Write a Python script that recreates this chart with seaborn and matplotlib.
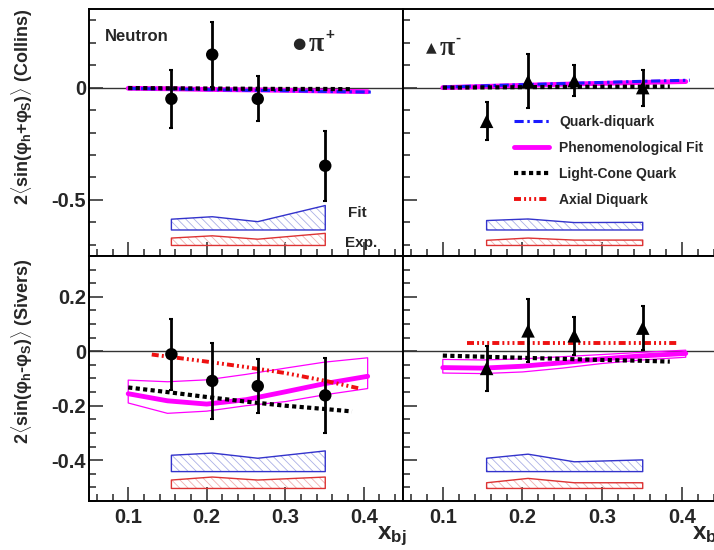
import matplotlib
matplotlib.use("Agg")
import matplotlib.pyplot as plt
from matplotlib.lines import Line2D
from matplotlib.ticker import MultipleLocator, FuncFormatter
import seaborn as sns

# measured bins (x_bj) and asymmetries
x_bins = [0.155, 0.207, 0.265, 0.351]

collins_pip = [-0.050, 0.147, -0.050, -0.348]
collins_pip_err = [0.130, 0.145, 0.100, 0.155]
collins_pim = [-0.150, 0.028, 0.031, 0.000]
collins_pim_err = [0.085, 0.120, 0.070, 0.080]

sivers_pip = [-0.011, -0.109, -0.128, -0.162]
sivers_pip_err = [0.130, 0.140, 0.100, 0.137]
sivers_pim = [-0.063, 0.075, 0.057, 0.085]
sivers_pim_err = [0.083, 0.116, 0.070, 0.080]

# systematic bands (base level + height)
sys_fit_collins_pip = [0.048, 0.059, 0.037, 0.109]
sys_exp_collins_pip = [0.033, 0.043, 0.028, 0.054]
sys_fit_collins_pim = [0.042, 0.049, 0.033, 0.034]
sys_exp_collins_pim = [0.023, 0.033, 0.024, 0.024]
sys_fit_sivers_pip = [0.060, 0.068, 0.049, 0.076]
sys_exp_sivers_pip = [0.031, 0.042, 0.031, 0.042]
sys_fit_sivers_pim = [0.049, 0.064, 0.036, 0.043]
sys_exp_sivers_pim = [0.021, 0.037, 0.021, 0.021]
collins_fit_base, collins_exp_base = -0.634, -0.703
sivers_fit_base, sivers_exp_base = -0.442, -0.504

# model curves
x_model = [0.10, 0.15, 0.20, 0.25, 0.30, 0.35, 0.405]
x_qd = [0.10, 0.15, 0.20, 0.25, 0.30, 0.35, 0.41]
x_lc = [0.10, 0.15, 0.20, 0.25, 0.30, 0.35, 0.385]
x_ax = [0.13, 0.20, 0.25, 0.30, 0.35, 0.395]

fit_collins_pip = [-0.003, -0.005, -0.008, -0.010, -0.012, -0.015, -0.018]
qd_collins_pip = [-0.004, -0.006, -0.009, -0.012, -0.014, -0.017, -0.020]
lc_collins_pip = [-0.002, -0.003, -0.004, -0.005, -0.006, -0.006, -0.007]

fit_collins_pim = [0.000, 0.005, 0.010, 0.015, 0.019, 0.023, 0.027]
qd_collins_pim = [0.002, 0.008, 0.013, 0.018, 0.023, 0.028, 0.033]
lc_collins_pim = [0.000, 0.001, 0.002, 0.003, 0.004, 0.004, 0.005]

fit_sivers_pip = [-0.156, -0.182, -0.194, -0.178, -0.149, -0.119, -0.092]
fit_sivers_pip_hi = [-0.106, -0.112, -0.105, -0.085, -0.062, -0.040, -0.024]
fit_sivers_pip_lo = [-0.190, -0.228, -0.220, -0.200, -0.185, -0.160, -0.137]
lc_sivers_pip = [-0.133, -0.150, -0.168, -0.185, -0.200, -0.212, -0.221]
ax_sivers_pip = [-0.012, -0.038, -0.058, -0.080, -0.108, -0.137]

fit_sivers_pim = [-0.060, -0.062, -0.055, -0.042, -0.028, -0.017, -0.008]
fit_sivers_pim_hi = [-0.030, -0.032, -0.028, -0.020, -0.012, -0.004, 0.004]
fit_sivers_pim_lo = [-0.080, -0.082, -0.076, -0.062, -0.045, -0.032, -0.022]
lc_sivers_pim = [-0.016, -0.020, -0.024, -0.028, -0.032, -0.035, -0.038]
ax_sivers_pim = [0.030, 0.030, 0.030, 0.030, 0.030, 0.030]

# styles
MAGENTA = "#ff00ff"
BLUE = "#1a1aff"
RED = "#ee1111"
qd_style = dict(color=BLUE, linewidth=2.2, linestyle=(0, (3, 1.2, 0.8, 1.2)))
fit_style = dict(color=MAGENTA, linewidth=3.5, linestyle="-")
lc_style = dict(color="black", linewidth=3, linestyle=(0, (1, 0.8)))
ax_style = dict(color=RED, linewidth=2.8, linestyle=(0, (1.8, 0.8, 0.5, 0.8, 0.5, 0.8, 0.5, 0.8)))

sns.set_theme(style="ticks")
plt.rcParams["font.family"] = ["Liberation Sans", "DejaVu Sans"]
plt.rcParams["font.weight"] = "bold"
plt.rcParams["axes.unicode_minus"] = False
plt.rcParams["mathtext.fontset"] = "custom"
plt.rcParams["mathtext.rm"] = "Liberation Sans:bold"
plt.rcParams["mathtext.it"] = "Liberation Sans:bold"
plt.rcParams["mathtext.bf"] = "Liberation Sans:bold"
plt.rcParams["hatch.linewidth"] = 0.6

fig = plt.figure(figsize=(7.14, 5.5), dpi=100)
ax_tl = fig.add_axes([0.1246, 0.5345, 0.4398, 0.4491])
ax_tr = fig.add_axes([0.5644, 0.5345, 0.4462, 0.4491])
ax_bl = fig.add_axes([0.1246, 0.0891, 0.4398, 0.4455])
ax_br = fig.add_axes([0.5644, 0.0891, 0.4462, 0.4455])


def style_axis(ax, top, left):
    ax.set_xlim(0.05, 0.45)
    ax.xaxis.set_major_locator(MultipleLocator(0.1))
    ax.xaxis.set_minor_locator(MultipleLocator(0.02))
    if top:
        ax.set_ylim(-0.75, 0.35)
        ax.yaxis.set_major_locator(MultipleLocator(0.5))
        ax.yaxis.set_minor_locator(MultipleLocator(0.1))
    else:
        ax.set_ylim(-0.55, 0.35)
        ax.yaxis.set_major_locator(MultipleLocator(0.2))
        ax.yaxis.set_minor_locator(MultipleLocator(0.05))
    ax.yaxis.set_major_formatter(FuncFormatter(lambda v, p: "%g" % round(v, 2)))
    ax.xaxis.set_major_formatter(FuncFormatter(lambda v, p: "%g" % round(v, 2)))
    ax.tick_params(which="major", direction="in", length=10, width=1.1, labelsize=14.5)
    ax.tick_params(which="minor", direction="in", length=5, width=1.1)
    ax.tick_params(axis="x", pad=5)
    ax.tick_params(axis="y", pad=2)
    ax.tick_params(labelbottom=not top, labelleft=left)
    for s in ax.spines.values():
        s.set_linewidth(1.4)
        s.set_color("black")
    ax.axhline(0, color="#333333", lw=1, zorder=1)


def sys_band(ax, base, h, color, hatch_color):
    top = [base + v for v in h]
    ax.fill_between(x_bins, base, top, facecolor="none", edgecolor=hatch_color,
                    hatch="\\\\\\\\", lw=0, zorder=2)
    ax.fill_between(x_bins, base, top, facecolor="none", edgecolor=color, lw=1, zorder=2)


def data_points(ax, y, err, marker, size):
    ax.errorbar(x_bins, y, yerr=err, fmt="none", ecolor="black", elinewidth=2,
                capsize=1.5, capthick=1.5, zorder=5)
    sns.scatterplot(x=x_bins, y=y, ax=ax, marker=marker, s=size, color="black",
                    edgecolor="none", zorder=6, legend=False)


def curve(ax, x, y, style):
    sns.lineplot(x=x, y=y, ax=ax, sort=False, legend=False, zorder=4,
                 dash_capstyle="butt", **style)


# Collins pi+
style_axis(ax_tl, True, True)
curve(ax_tl, x_model, fit_collins_pip, fit_style)
curve(ax_tl, x_qd, qd_collins_pip, qd_style)
curve(ax_tl, x_lc, lc_collins_pip, lc_style)
sys_band(ax_tl, collins_fit_base, sys_fit_collins_pip, "#3333cc", "#aab0e6")
sys_band(ax_tl, collins_exp_base, sys_exp_collins_pip, "#dd3333", "#f0b0b0")
data_points(ax_tl, collins_pip, collins_pip_err, "o", 80)

# Collins pi-
style_axis(ax_tr, True, False)
curve(ax_tr, x_model, fit_collins_pim, fit_style)
curve(ax_tr, x_qd, qd_collins_pim, qd_style)
curve(ax_tr, x_lc, lc_collins_pim, lc_style)
sys_band(ax_tr, collins_fit_base, sys_fit_collins_pim, "#3333cc", "#aab0e6")
sys_band(ax_tr, collins_exp_base, sys_exp_collins_pim, "#dd3333", "#f0b0b0")
data_points(ax_tr, collins_pim, collins_pim_err, "^", 95)

# Sivers pi+
style_axis(ax_bl, False, True)
ax_bl.fill_between(x_model, fit_sivers_pip_lo, fit_sivers_pip_hi, facecolor="none",
                   edgecolor=MAGENTA, lw=0.9, zorder=3)
curve(ax_bl, x_model, fit_sivers_pip, fit_style)
curve(ax_bl, x_lc, lc_sivers_pip, lc_style)
curve(ax_bl, x_ax, ax_sivers_pip, ax_style)
sys_band(ax_bl, sivers_fit_base, sys_fit_sivers_pip, "#3333cc", "#aab0e6")
sys_band(ax_bl, sivers_exp_base, sys_exp_sivers_pip, "#dd3333", "#f0b0b0")
data_points(ax_bl, sivers_pip, sivers_pip_err, "o", 80)

# Sivers pi-
style_axis(ax_br, False, False)
ax_br.fill_between(x_model, fit_sivers_pim_lo, fit_sivers_pim_hi, facecolor="none",
                   edgecolor=MAGENTA, lw=0.9, zorder=3)
curve(ax_br, x_model, fit_sivers_pim, fit_style)
curve(ax_br, x_lc, lc_sivers_pim, lc_style)
curve(ax_br, x_ax, ax_sivers_pim, ax_style)
sys_band(ax_br, sivers_fit_base, sys_fit_sivers_pim, "#3333cc", "#aab0e6")
sys_band(ax_br, sivers_exp_base, sys_exp_sivers_pim, "#dd3333", "#f0b0b0")
data_points(ax_br, sivers_pim, sivers_pim_err, "^", 95)

# annotations
ax_tl.text(0.051, 0.887, "Neutron", transform=ax_tl.transAxes, fontsize=12,
           fontweight="bold", va="center", ha="left")
ax_tl.text(0.648, 0.862, "\u25cf", transform=ax_tl.transAxes, fontsize=11,
           family=["DejaVu Sans"], va="center", ha="left")
ax_tl.text(0.700, 0.855, "\u03c0", transform=ax_tl.transAxes, fontsize=20,
           family=["Liberation Serif", "DejaVu Serif"], va="center", ha="left")
ax_tl.text(0.752, 0.895, "+", transform=ax_tl.transAxes, fontsize=11,
           fontweight="bold", va="center", ha="left")
ax_tr.text(0.073, 0.846, "\u25b2", transform=ax_tr.transAxes, fontsize=10,
           family=["DejaVu Sans"], va="center", ha="left")
ax_tr.text(0.115, 0.840, "\u03c0", transform=ax_tr.transAxes, fontsize=20,
           family=["Liberation Serif", "DejaVu Serif"], va="center", ha="left")
ax_tr.text(0.165, 0.885, "-", transform=ax_tr.transAxes, fontsize=11,
           fontweight="bold", va="center", ha="left")
ax_tl.text(0.825, 0.174, "Fit", transform=ax_tl.transAxes, fontsize=11,
           fontweight="bold", va="center", ha="left")
ax_tl.text(0.815, 0.053, "Exp.", transform=ax_tl.transAxes, fontsize=11,
           fontweight="bold", va="center", ha="left")

handles = [Line2D([], [], dash_capstyle="butt", **qd_style),
           Line2D([], [], dash_capstyle="butt", **fit_style),
           Line2D([], [], dash_capstyle="butt", **lc_style),
           Line2D([], [], dash_capstyle="butt", **ax_style)]
labels = ["Quark-diquark", "Phenomenological Fit", "Light-Cone Quark", "Axial Diquark"]
ax_tr.legend(handles, labels, loc="center left", bbox_to_anchor=(0.35, 0.385),
             frameon=False, borderpad=0, borderaxespad=0, handlelength=2.5,
             handletextpad=0.7, labelspacing=0.85,
             prop={"weight": "bold", "size": 10})

# axis titles
fig.text(22 / 714, 1 - 9 / 550,
         r"2$\langle$sin($\varphi_{h}$+$\varphi_{S}$)$\rangle$ (Collins)",
         rotation=90, fontsize=13, fontweight="bold", ha="center", va="top")
fig.text(22 / 714, 1 - 258 / 550,
         r"2$\langle$sin($\varphi_{h}$-$\varphi_{S}$)$\rangle$ (Sivers)",
         rotation=90, fontsize=13, fontweight="bold", ha="center", va="top")
fig.text(377 / 714, 1 - 539 / 550, r"x$_{\mathrm{bj}}$", fontsize=17.5,
         fontweight="bold", ha="left", va="baseline")
fig.text(692 / 714, 1 - 539 / 550, r"x$_{\mathrm{bj}}$", fontsize=17.5,
         fontweight="bold", ha="left", va="baseline")

fig.savefig("out.png", dpi=100)
